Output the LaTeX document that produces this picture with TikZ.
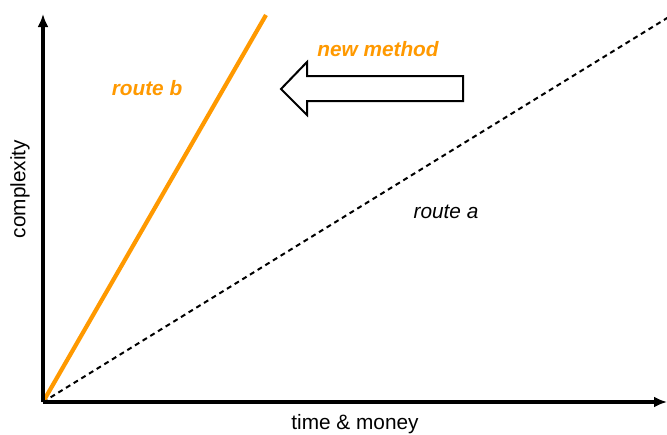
\documentclass[tikz,border=0pt]{standalone}
\usepackage{fontspec}
\setmainfont{Liberation Sans}
\usetikzlibrary{arrows.meta}
\definecolor{orng}{HTML}{FF9900}
\begin{document}
\begin{tikzpicture}[x=1pt,y=-1pt,
  axis/.style={line width=3.2pt,-{Latex[length=13pt,width=11pt]}},
  lbl/.style={font=\fontsize{20.8}{24}\selectfont,inner sep=0pt},
  olbl/.style={lbl,text=orng,font=\fontsize{20.8}{24}\selectfont\bfseries\itshape},
  blockarrow/.style={draw=black,line width=2pt,fill=white,line join=miter}]
\useasboundingbox (0,0) rectangle (667,434);
\clip (0,0) rectangle (667,434);
\coordinate (O) at (43,402);
\coordinate (Y) at (43,14);
\coordinate (X) at (667,402);
\coordinate (B) at (266,15);
\coordinate (A) at (672,15);
\draw[black,line width=2pt,dash pattern=on 5pt off 4pt] (O) -- (A);
\draw[orng,line width=4.2pt] (O) -- (B);
\draw[axis] (O) -- (Y);
\draw[axis] (O) -- (X);
\draw[blockarrow] (463,76) -- (307,76) -- (307,62) -- (281,89) -- (307,115) -- (307,101) -- (463,101) -- cycle;
\node[olbl] (nm) at (378,49) {new method};
\node[olbl] (rb) at (147,88) {route b};
\node[lbl,font=\fontsize{20.8}{24}\selectfont\itshape] (ra) at (446,212) {route a};
\node[lbl,rotate=90] (cx) at (20,189) {complexity};
\node[lbl] (tm) at (355,424) {time \& money};
\end{tikzpicture}
\end{document}
